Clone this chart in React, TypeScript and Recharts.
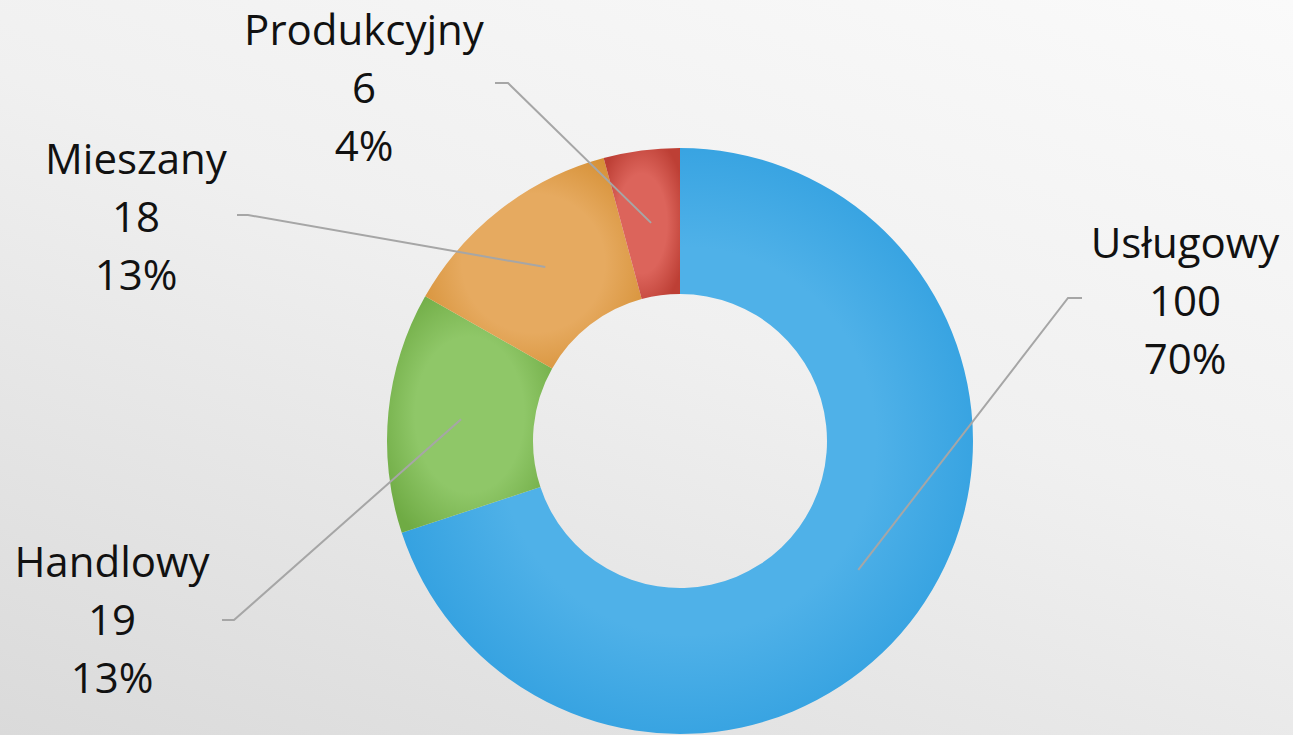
import { PieChart, Pie, Cell } from "recharts";

const categories = ["Usługowy", "Handlowy", "Mieszany", "Produkcyjny"];
const counts = [100, 19, 18, 6];

const sliceColors = [
  { light: "#4fb1e8", dark: "#2b9cde" },
  { light: "#8fc768", dark: "#6fab44" },
  { light: "#e6aa60", dark: "#d58f34" },
  { light: "#dc645b", dark: "#bd3f35" },
];

// label block placement (text centre x, first baseline y) and leader-line elbow
const labelSpots = [
  { tx: 1185, ty: 258, ex: 1068, ey: 298, endX: 1082 },
  { tx: 112, ty: 577, ex: 234, ey: 620, endX: 222 },
  { tx: 136, ty: 174, ex: 248, ey: 215, endX: 237 },
  { tx: 364, ty: 45, ex: 508, ey: 83, endX: 495 },
];

const data = categories.map((name, i) => ({ name, value: counts[i] }));

const RAD = Math.PI / 180;
const LINE_GAP = 58;

function SliceLabel(props: any) {
  const { cx, cy, midAngle, innerRadius, outerRadius, index, name, value, percent } = props;
  const spot = labelSpots[index];
  const r = (innerRadius + outerRadius) / 2;
  const px = cx + r * Math.cos(-midAngle * RAD);
  const py = cy + r * Math.sin(-midAngle * RAD);
  return (
    <g>
      <polyline
        points={`${px},${py} ${spot.ex},${spot.ey} ${spot.endX},${spot.ey}`}
        fill="none"
        stroke="#a6a6a6"
        strokeWidth={2}
      />
      <text
        x={spot.tx}
        y={spot.ty}
        textAnchor="middle"
        fill="#111"
        fontSize={42}
        fontFamily="'Open Sans', sans-serif"
      >
        <tspan x={spot.tx} y={spot.ty}>{name}</tspan>
        <tspan x={spot.tx} y={spot.ty + LINE_GAP}>{value}</tspan>
        <tspan x={spot.tx} y={spot.ty + LINE_GAP * 2}>{`${Math.round(percent * 100)}%`}</tspan>
      </text>
    </g>
  );
}

export default function App() {
  return (
    <div
      style={{
        position: "absolute",
        left: 0,
        top: 0,
        width: 1293,
        height: 735,
        background: "linear-gradient(200deg, #fafafa 0%, #f0f0f0 45%, #dadada 100%)",
        overflow: "hidden",
      }}
    >
      <PieChart width={1293} height={735} margin={{ top: 0, right: 0, bottom: 0, left: 0 }}>
        <defs>
          {sliceColors.map((c, i) => (
            <radialGradient key={i} id={`slice-${i}`} cx="50%" cy="50%" r="60%">
              <stop offset="0%" stopColor={c.light} />
              <stop offset="55%" stopColor={c.light} />
              <stop offset="100%" stopColor={c.dark} />
            </radialGradient>
          ))}
        </defs>
        <Pie
          data={data}
          dataKey="value"
          nameKey="name"
          cx={680}
          cy={441}
          innerRadius={147}
          outerRadius={293}
          startAngle={90}
          endAngle={-270}
          stroke="none"
          label={SliceLabel}
          labelLine={false}
          isAnimationActive={false}
        >
          {data.map((d, i) => (
            <Cell key={d.name} fill={`url(#slice-${i})`} />
          ))}
        </Pie>
      </PieChart>
    </div>
  );
}
